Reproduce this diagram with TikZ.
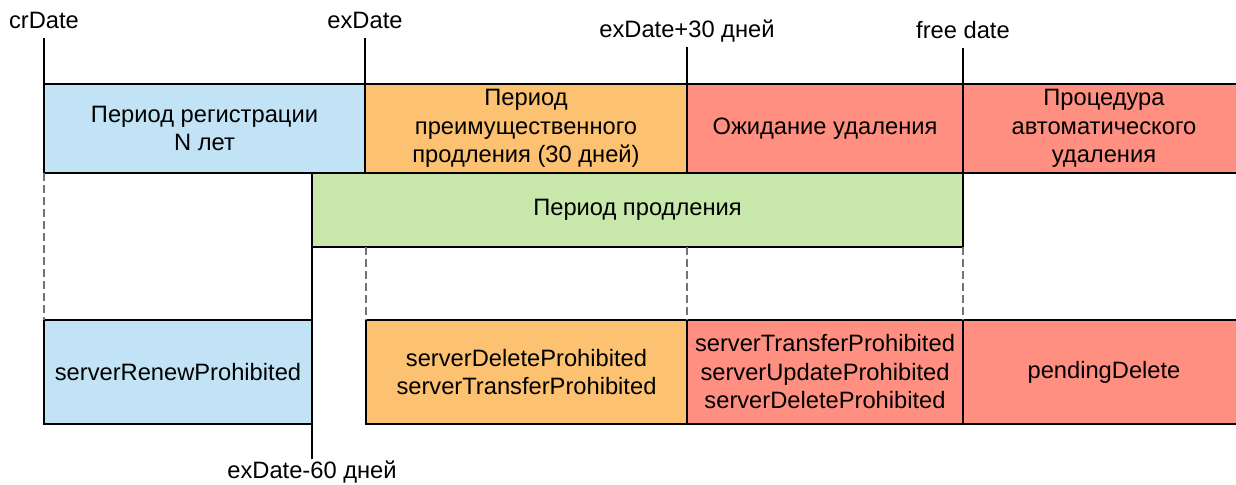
\documentclass[tikz,border=0pt]{standalone}
\usepackage{fontspec}
\setmainfont{Liberation Sans}
\usetikzlibrary{positioning}

\definecolor{regblue}{RGB}{193,227,245}
\definecolor{graceorange}{RGB}{252,194,114}
\definecolor{delred}{RGB}{255,143,128}
\definecolor{renewgreen}{RGB}{199,231,171}

\begin{document}
\begin{tikzpicture}[x=0.5pt, y=-0.5pt, font=\fontsize{11.85}{14.25}\selectfont,
    period/.style={draw, line width=0.9pt, outer sep=0pt, inner sep=0pt, anchor=north west, align=center},
    datelabel/.style={anchor=base, inner sep=4.5pt, text depth=0pt},
    tick/.style={line width=0.9pt},
    guide/.style={draw=black!55, line width=0.6pt, dash pattern=on 4pt off 2pt}]
    \def\px{0.5pt} % one pixel of the grid
    \useasboundingbox (0,0) rectangle (1236,485);

    % top row
    \node[period, fill=regblue, minimum width=321*\px, minimum height=89*\px] (reg) at (44,84) {Период регистрации\\N лет};
    \node[period, fill=graceorange, minimum width=322*\px, minimum height=89*\px, right=0pt of reg] (grace) {Период\\преимущественного\\продления (30 дней)};
    \node[period, fill=delred, minimum width=276*\px, minimum height=89*\px, right=0pt of grace] (wait) {Ожидание удаления};
    \node[period, fill=delred, minimum width=282*\px, minimum height=89*\px, right=0pt of wait] (purge) {Процедура\\автоматического\\удаления};

    % renew period
    \node[period, fill=renewgreen, minimum width=651*\px, minimum height=74*\px] (renew) at (312,173) {Период продления};

    % statuses
    \node[period, fill=regblue, minimum width=268*\px, minimum height=104*\px] (srp) at (44,320) {serverRenewProhibited};
    \node[period, fill=graceorange, minimum width=321*\px, minimum height=104*\px] (sdp) at (366,320) {serverDeleteProhibited\\serverTransferProhibited};
    \node[period, fill=delred, minimum width=276*\px, minimum height=104*\px, right=0pt of sdp] (stp) {serverTransferProhibited\\serverUpdateProhibited\\serverDeleteProhibited};
    \node[period, fill=delred, minimum width=282*\px, minimum height=104*\px, right=0pt of stp] (pdel) {pendingDelete};

    % dates
    \node[datelabel] (crdate) at (44,29) {crDate};
    \node[datelabel] (exdate) at (365,29) {exDate};
    \node[datelabel] (graceend) at (687,38) {exDate+30 дней};
    \node[datelabel] (freedate) at (963,39) {free date};
    \node[datelabel, inner sep=1pt] (renewstart) at (312,479) {exDate-60 дней};

    \draw[tick] (crdate.south) -- (reg.north west);
    \draw[tick] (exdate.south) -- (grace.north west);
    \draw[tick] (graceend.south) -- (wait.north west);
    \draw[tick] (freedate.south) -- (renew.south east);
    \draw[tick] (renew.south west) -- (renewstart.north);

    \draw[guide] (reg.south west) -- (srp.north west);
    \draw[guide] (sdp.north west |- renew.south) -- (sdp.north west);
    \draw[guide] (stp.north west |- renew.south) -- (stp.north west);
    \draw[guide] (renew.south east) -- (pdel.north west);
\end{tikzpicture}
\end{document}
